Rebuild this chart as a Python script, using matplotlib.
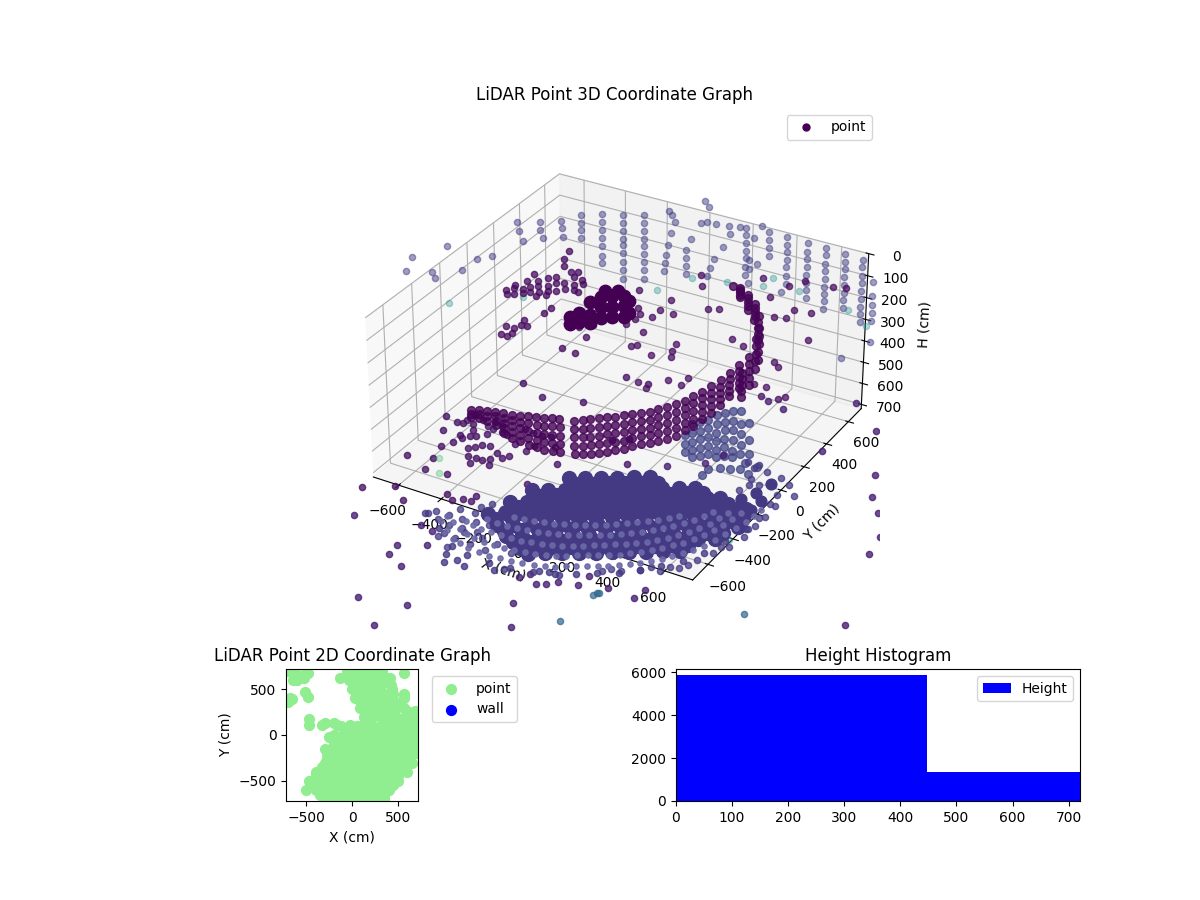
import numpy as np
import matplotlib
matplotlib.use("Agg")
import matplotlib.pyplot as plt
from matplotlib.gridspec import GridSpec
from matplotlib.lines import Line2D

# ---- data ----
band_x = [-792,-752,-711,-670,-630,-590,-549,-509,-468,-432,-392,-356,-285,-245,-208,-168,-128,-92,-51,-11,30,71,111,152,192,233,269,309,350,390,430,471,278,310,338,351,347,329,297,261,230]
band_y = [100]*32 + [500]*9
band_h = [[860,875,890],[847,866,886],[839,863,888],[831,852,873,895],[823,848,873,898,922],[820,848,876,905,933],[812,843,874,905,935],[804,838,873,908,942],[796,833,870,906,943],[789,827,865,904,942],[776,817,858,898,939],[770,810,851,891,932],[757,797,838,878,919],[743,784,825,865,906],[727,769,811,853,895],[709,751,793,835,877],[691,733,775,817,859],[680,720,759,799,838],[662,702,741,781,820],[644,682,720,759,797],[626,663,700,737,774],[608,645,682,719,756],[585,622,659,696,733],[562,599,636,673,710],[535,572,609,646,683],[507,542,576,611,645],[476,510,545,580,614],[443,475,507,539,571],[405,436,466,497,528],[368,396,425,453,481],[325,351,377,403,429],[273,300,327,354,381],[566,595,625,655,684],[484,517,550,583,616],[392,426,461,496,530],[338,375,412,449,486],[281,309,338,366,394],[232,250,268,287,305],[198,215,232,250,267],[175,186,197,208,219],[174]]

fan_x = [315,315,315,347,347,347,347,347,383,383,383,383,383,419,419,419,419,419,455,455,455,455,455,455,491,491,491,491,491,491,527,527,527,527,527,527,563,563,563,563,563,599,599,599,396,419,473,518,563,585,639,599]
fan_h = [564,604,643,505,545,584,624,658,484,523,562,602,641,462,502,541,581,620,431,471,510,550,589,624,410,449,488,528,567,607,388,433,477,522,571,600,377,436,485,534,574,424,498,562,726,689,667,658,643,611,609,656]

cluster_x = [-531,-531,-486,-486,-432,-432,-432,-378,-378,-378,-324,-324,-324,-270,-270,-270,-243,-243,-360,-297]
cluster_h = [520,554,491,530,424,484,523,383,432,481,365,415,464,348,397,446,364,423,352,332]

wall_x = [-617,-617,-617,-617,-512,-512,-512,-512,-512,-512,-512,-411,-411,-411,-411,-411,-411,-411,-411,-411,-311,-311,-311,-311,-311,-311,-311,-311,-311,-192,-178,-165,-183,-197,-206,-210,-215,-110,-110,-110,-110,-87,-23,-5,-41,-14,27,87,142,238,96,64,23,5,-9,169,169,169,169,169,169,169,183,183,206,187,274,274,274,274,224,356,356,356,356,356,356,356,334,448,448,448,448,448,448,448,448,530,530,530,530,530,530,530,530,530,617,617,617,617,617,617,617,617,695,695,695,695,695,695,695,695,695,745,745,745,745,745,745,617]
wall_h = [168,205,238,276,138,175,213,250,288,335,368,114,151,189,226,259,297,339,377,419,89,127,164,202,235,272,310,348,390,42,58,83,143,203,252,291,330,201,239,276,314,144,-50,-27,58,46,46,37,28,0,72,140,207,254,295,26,59,97,134,167,205,243,277,169,64,210,20,53,90,128,178,19,56,89,127,159,197,234,277,24,62,94,132,169,207,240,278,24,57,95,128,165,203,236,269,306,27,64,97,135,172,205,238,276,36,69,107,140,178,211,248,281,319,123,184,226,264,302,400,511]

leftw_y = [377,393,425,556,556,580,727,735,742,-144,-393,-432,-253,-238,-43,73,183]
leftw_h = [77,126,185,153,192,240,226,264,307,-50,-115,-72,19,53,106,110,144]

teal_x = [-247,-78,87,251,297,416,722,640,-720,-720,724]
teal_y = [720,720,720,720,720,720,720,720,-144,416,-438]
teal_h = [427,325,300,274,226,254,331,280,209,446,700]

mid_x = [-729,-729,-693,-693,-684,-648,-648,-626,-612,-612,-594,-572,-572,-572,-585,-527,-527,-527,-536,-486,-486,-486,-446,-446,-400,-400,-400,-383,-383,-360,-360,-414,-761,-734,-734,-707,-698,-662,-648,-630,-545,-513,-464,-400,-347,-378,-311,-446,-446,-423]
mid_h = [362,382,340,370,323,336,355,289,314,339,249,277,301,326,350,252,287,312,334,235,264,299,251,281,212,246,271,276,182,214,234,192,579,580,536,561,534,508,479,503,421,386,562,567,476,437,410,138,173,96]

right_x = [-37,-32,251,370,288,443,571,626,-334,-338,-329,-352,-398,-270,-233,-169,-178,0,50,306,361,398,475,114,466,-151,-169,-178,-274,-370,-343,-315,169,315,334,-338,-297,-187,-128,-91,224,279,256,338,370]
right_h = [301,352,237,241,313,200,193,180,452,538,564,598,632,563,522,521,457,452,435,402,394,347,338,561,467,662,699,735,748,734,722,650,581,616,635,904,923,850,854,813,746,747,795,785,767]

low_x = [-708,-658,-598,-576,-679,-576,-559,-462,-645,-621,-618,-610,-580,-560,-521,-509,-467,-578,-557,-540,-517,-459,-428,-416,-348,-441,-487,-489,-553,-479,-498,-462,-428,-427,-399,-375,-356,-378,-338,-323,-283,-275,-331,-286,-252,-374,-197,-123,-152,119,-448,-579,-283,-229,-124,-26,28,-1250,-698,-590,-506,-383,-339,-309,-272,-277]
low_y = [-210,-312,-418,-366,-545,-510,-593,-581,-228,-222,-193,-149,-206,-166,-190,-153,-165,-310,-326,-296,-282,-332,-322,-210,-254,-206,-245,-198,-247,-354,-375,-429,-466,-426,-428,-404,-440,-348,-372,-343,-281,-228,-148,-148,-137,-136,-198,-304,-485,-164,113,175,168,430,428,-35,8,-180,-832,-756,-828,-704,-734,-706,-702,-658]

out_x = [-613,-348,-344,-253,-259,-283,-96,-131,233,308,-291,-347,274,243,307,163,380,386,485,189,1354,612,604,1003,1062,1132,1212,1228,696,860,742,457,372,380,262,415]
out_y = [-1009,-1102,-1166,-1043,-1209,-1461,-1413,-1578,-1209,-1343,-953,-940,-1041,-1060,-1010,-1053,-985,-914,-947,-1017,-725,-889,-960,259,105,15,-136,-259,717,562,316,530,555,-3,-95,85]

blue_x = [445,464,473,470,1004]
blue_y = [-1221,-1018,-993,-1000,-846]
green_x = [-556,-493]
green_y = [-497,-591]

edge_x = [767,745,796,770,766,751,764,747,719,715,687,671,652,618,599,557,531,474,435,409,694,673,643,609,590,735,742,754,593,625,571,565,526]
edge_y = [-145,23,-41,-229,-307,-335,-394,-481,-498,-549,-623,-670,-702,-714,-754,-751,-787,-831,-836,-862,49,-12,-40,-61,-111,-68,-141,-248,-14,63,96,64,88]

solid_x = [-29,26,80,134,188,243,-109,-55,-1,54,108,162,216,271,325,379,433,-139,-85,-30,24,78,132,186,241,295,349,403,458,512,556,-169,-115,-60,-6,48,102,157,211,265,319,374,428,482,536,591,645,679,-97,-43,12,66,120,174,229,283,337,391,446,500,554,608,663,700,-25,29,84,138,192,246,300,355,409,463,517,572,626,680,65,119,173,228,282,336,390,445,499,553,607,
           17,72,126,180,234,289,-63,-9,45,100,154,208,262,317,371,425,479,-93,-39,16,70,124,178,232,287,341,395,449,504,558,602,-123,-69,-14,40,94,148,203,257,311,365,420,474,528,582,637,691,-51,3,58,112,166,220,275,329,383,437,492,546,600,654,709,21,75,130,184,238,292,346,401,455,509,563,618,672,111,165,219,274,328,382,436,491,545,599]
solid_y = [-370,-336,-303,-269,-236,-202,-516,-482,-448,-415,-381,-348,-314,-280,-247,-213,-180,-630,-596,-562,-529,-495,-462,-428,-394,-361,-327,-294,-260,-226,-199,-743,-709,-675,-642,-608,-575,-541,-507,-474,-440,-407,-373,-339,-306,-272,-238,-218,-794,-760,-726,-693,-659,-626,-592,-558,-525,-491,-458,-424,-390,-357,-323,-300,-845,-811,-777,-744,-710,-677,-643,-609,-576,-542,-508,-475,-441,-408,-884,-850,-817,-783,-750,-716,-682,-649,-615,-582,-548,
           -389,-355,-322,-288,-255,-221,-535,-501,-467,-434,-400,-367,-333,-299,-266,-232,-199,-649,-615,-581,-548,-514,-481,-447,-413,-380,-346,-313,-279,-245,-218,-762,-728,-694,-661,-627,-594,-560,-526,-493,-459,-426,-392,-358,-325,-291,-257,-813,-779,-745,-712,-678,-645,-611,-577,-544,-510,-477,-443,-409,-376,-342,-864,-830,-796,-763,-729,-696,-662,-628,-595,-561,-527,-494,-460,-903,-869,-836,-802,-769,-735,-701,-668,-634,-601]

wing_x = [628,660,680,700,661,704]
wing_y = [-164,-96,-8,-215,-286,-136]

ring_x = [-298,-190,-109,-8,82,169,245,312,380,448,508,564,616,661,691,721,734,-300,-204,-123,-32,55,135,210,277,345,413,474,530,582,627,654,674,-214,-136,-45,42,121,196,264,332,396,460,517,565,606,630,-150,-59,24,104,178,246,314,379,439,495,544,578,-72,11,90,161,233,297,361,422,477,
          -244,-150,-58,37,125,207,278,346,414,478,536,590,638,676,706,727,-252,-163,-78,12,95,172,243,311,379,443,502,556,604,640,664,-175,-90,-2,81,158,230,298,364,428,488,541,585,618,-105,-18,64,141,212,280,346,409,467,520,561,-30,50,125,197,265,329,391,450]
ring_y = [-880,-957,-982,-987,-978,-954,-926,-884,-842,-799,-743,-679,-609,-524,-410,-296,-194,-835,-889,-915,-916,-910,-889,-862,-820,-778,-735,-678,-615,-544,-459,-358,-250,-828,-847,-848,-841,-821,-793,-751,-709,-660,-611,-547,-470,-377,-277,-779,-780,-767,-746,-719,-677,-635,-585,-528,-465,-387,-300,-712,-699,-678,-643,-608,-559,-510,-454,-390,
          -918,-970,-985,-982,-966,-940,-905,-863,-820,-771,-711,-644,-566,-467,-353,-245,-862,-902,-916,-913,-900,-875,-841,-799,-756,-706,-646,-580,-501,-408,-304,-838,-848,-845,-831,-807,-772,-730,-684,-635,-579,-508,-423,-327,-780,-773,-756,-732,-698,-656,-610,-556,-496,-426,-343,-705,-688,-660,-625,-583,-534,-482,-422]

tip_x = [-369,-315,-256,-201,-135,-353,-294,-238,-179,-124,-279,-217,-161,-136,-192,-219,-243,-184,-114,-44,-176,-99,-29,53,-380,-248,-180]
tip_y = [-857,-872,-883,-877,-874,-829,-830,-824,-817,-810,-773,-763,-758,-685,-681,-716,-942,-952,-957,-961,-900,-900,-904,-930,-864,-974,-1017]

fringe_x = [-275,-167,-86,15,105,192,268,335,403,471,531,587,639,684,714,744,-157,-98,-131,-55,58,85,205,243,287]
fringe_y = [-923,-1000,-1025,-1030,-1021,-997,-969,-927,-885,-842,-786,-722,-652,-567,-453,-339,-1060,-1071,-1110,-1092,-1060,-1033,-979,-965,-965]

over_x = [-26,28]
over_y = [-35,8]

# top-view (2D) read values
top_x = [-300,-200,-100,0,100,200,300,350,-500,-400,-300,-200,-100,0,100,200,300,400,-470,-370,-270,-170,-70,30,130,230,330,430,500,-400,-300,-200,-100,0,100,200,300,400,500,600,-300,-200,-100,0,100,200,300,400,500,600,650,-270,-170,-70,30,130,230,330,430,530,630,700,-200,-100,0,100,200,300,400,500,600,700,-200,-250,-100,0,100,200,300,400,500,600,700,-120,-20,50,130,300,400,500,600,700,380,480,580,680,600,680,
         -60,40,140,240,330,-30,70,170,270,350,0,100,200,300,430,560,30,130,230,330,430,560,80,180,280,380,480,560,130,230,330,400,140,190,
         -130,410,560,-520,-480,-470,-470,-330,-300,-200,-170,-300,-700,-680,-660,-700,-640,-600,-540,-480,-650,-600,-530,
         -350,-250,-150,-50,50,150,250,350,-450,-350,-250,-150,-50,50,150,250,350,450,-400,-300,-200,-100,0,100,200,300,400,500,-330,-230,-130,-30,70,170,270,370,470,570,-280,-180,-80,20,120,220,320,420,520,620,-230,-130,-30,70,170,270,370,470,570,670,-200,-100,0,100,200,300,400,500,600,690,-80,20,120,220,320,420,520,620,700,350,450,550,650,
         -30,70,170,270,340,10,110,210,310,420,50,150,250,350,450,100,200,300,400,500,160,260,360,460]
top_y = [-700,-700,-700,-700,-700,-700,-700,-700,-600,-600,-600,-600,-600,-600,-600,-600,-600,-600,-500,-500,-500,-500,-500,-500,-500,-500,-500,-500,-500,-400,-400,-400,-400,-400,-400,-400,-400,-400,-400,-400,-300,-300,-300,-300,-300,-300,-300,-300,-300,-300,-300,-200,-200,-200,-200,-200,-200,-200,-200,-200,-200,-200,-100,-100,-100,-100,-100,-100,-100,-100,-100,-100,0,-20,0,0,0,0,0,0,0,0,0,100,110,100,90,100,100,100,100,100,200,200,200,200,260,260,
         700,700,700,700,700,600,600,600,600,600,500,500,500,500,500,450,400,400,400,400,400,400,300,300,300,300,300,300,200,200,200,200,130,130,
         620,620,680,470,420,180,110,110,130,130,110,-150,365,400,390,700,700,650,660,680,600,600,620,
         -650,-650,-650,-650,-650,-650,-650,-650,-550,-550,-550,-550,-550,-550,-550,-550,-550,-550,-450,-450,-450,-450,-450,-450,-450,-450,-450,-450,-350,-350,-350,-350,-350,-350,-350,-350,-350,-350,-250,-250,-250,-250,-250,-250,-250,-250,-250,-250,-150,-150,-150,-150,-150,-150,-150,-150,-150,-150,-50,-50,-50,-50,-50,-50,-50,-50,-50,-50,50,50,50,50,50,50,50,50,50,150,150,150,150,
         650,650,650,650,650,550,550,550,550,550,450,450,450,450,450,350,350,350,350,350,250,250,250,250]

hist_edges = [0, 447, 720]
hist_counts = [5860, 1345]

# ---- figure ----
fig = plt.figure(figsize=(12, 9), dpi=100)
gs = GridSpec(2, 2, height_ratios=[4, 1], hspace=0.1, wspace=0.3)

ax = fig.add_subplot(gs[0, :], projection='3d')
ax.set_box_aspect((1, 1, 0.5))
ax.computed_zorder = False
V = plt.get_cmap('viridis')

def pts(x, y, h, v, alpha, z, s=20):
    ax.scatter(x, y, h, color=V(v), alpha=alpha, s=s, depthshade=False, zorder=z)

# expand columns
bx = np.repeat(band_x, [len(c) for c in band_h])
by = np.repeat(band_y, [len(c) for c in band_h])
bh = np.concatenate([np.array(c) for c in band_h])

pts(wall_x, np.full(len(wall_x), 720), wall_h, 0.19, 0.5, 1)
pts(np.full(len(leftw_y), -720), leftw_y, leftw_h, 0.17, 0.5, 1)
pts(teal_x, teal_y, teal_h, 0.5, 0.35, 1)
pts(mid_x, np.full(len(mid_x), 300), mid_h, 0.03, 0.75, 2)
pts(right_x, np.full(len(right_x), 720), right_h, 0.03, 0.72, 2)
pts(low_x, low_y, np.full(len(low_x), 700), 0.05, 0.78, 2)
pts(green_x, green_y, np.full(len(green_x), 700), 0.7, 0.35, 2)
pts(cluster_x, np.full(len(cluster_x), 480), cluster_h, 0.0, 1.0, 3, s=80)
pts(fan_x, np.full(len(fan_x), -50), fan_h, 0.2, 0.75, 3, s=32)
pts(bx, by, bh, 0.01, 0.8, 4, s=32)
pts(out_x, out_y, np.full(len(out_x), 700), 0.09, 0.8, 4)
pts(blue_x, blue_y, np.full(len(blue_x), 700), 0.33, 0.7, 4)
pts(edge_x, edge_y, np.full(len(edge_x), 700), 0.17, 0.75, 5)
pts(fringe_x, fringe_y, np.full(len(fringe_x), 700), 0.17, 0.8, 5)
pts(tip_x, tip_y, np.full(len(tip_x), 700), 0.17, 0.75, 5)
pts(wing_x, wing_y, np.full(len(wing_x), 700), 0.17, 1.0, 6, s=60)
pts(solid_x, solid_y, np.full(len(solid_x), 700), 0.17, 1.0, 6, s=100)
ax.scatter(ring_x, ring_y, np.full(len(ring_x), 700), color='#6a69a6', alpha=0.9, s=14, depthshade=False, zorder=7)
pts(over_x, over_y, np.full(len(over_x), 700), 0.03, 0.8, 8)

ax.set_xlim(-720, 720)
ax.set_ylim(-720, 720)
ax.set_zlim(720, 0)
ax.set_xlabel('X (cm)')
ax.set_ylabel('Y (cm)')
ax.set_zlabel('H (cm)')
ax.set_title('LiDAR Point 3D Coordinate Graph')
ax.legend(handles=[Line2D([], [], ls='', marker='o', markersize=5, color='#440154', label='point')], loc='upper right')

ax2 = fig.add_subplot(gs[1, 0])
ax2.scatter(top_x, top_y, color='lightgreen', s=50, label='point')
ax2.scatter([], [], color='blue', s=50, label='wall')
ax2.set_xlim(-720, 720)
ax2.set_ylim(-720, 720)
ax2.set_aspect('equal')
ax2.set_xlabel('X (cm)')
ax2.set_ylabel('Y (cm)')
ax2.set_title('LiDAR Point 2D Coordinate Graph')
ax2.legend(bbox_to_anchor=(1.05, 1), loc='upper left')

ax3 = fig.add_subplot(gs[1, 1])
ax3.hist(hist_edges[:-1], bins=hist_edges, weights=hist_counts, color='blue', label='Height')
ax3.set_xlim(0, 720)
ax3.set_title('Height Histogram')
ax3.legend(loc='upper right')

fig.savefig('out.png', dpi=100)
